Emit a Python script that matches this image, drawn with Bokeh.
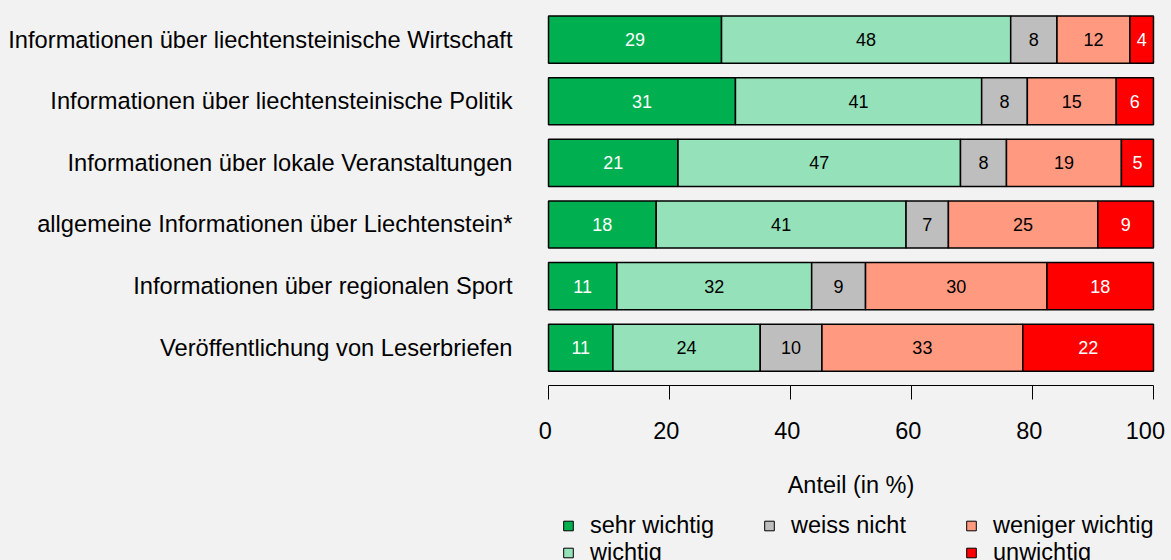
from bokeh.plotting import figure
from bokeh.layouts import column
from bokeh.models import (ColumnDataSource, Range1d, FixedTicker, Legend, LegendItem,
                          GlobalInlineStyleSheet)
from bokeh.core.properties import value
from bokeh.embed import file_html
from bokeh.resources import INLINE

categories = [
    "Informationen über liechtensteinische Wirtschaft",
    "Informationen über liechtensteinische Politik",
    "Informationen über lokale Veranstaltungen",
    "allgemeine Informationen über Liechtenstein*",
    "Informationen über regionalen Sport",
    "Veröffentlichung von Leserbriefen",
]
series_names = ["sehr wichtig", "wichtig", "weiss nicht", "weniger wichtig", "unwichtig"]
sehr_wichtig = [28.6, 30.9, 21.4, 17.8, 11.3, 10.65]
wichtig = [47.8, 40.7, 46.7, 41.3, 32.2, 24.35]
weiss_nicht = [7.65, 7.55, 7.6, 7.0, 8.9, 10.2]
weniger_wichtig = [12.05, 14.7, 19.0, 24.7, 30.0, 33.2]
unwichtig = [3.9, 6.15, 5.3, 9.2, 17.6, 21.6]
x_ticks = [0, 20, 40, 60, 80, 100]

colors = ["#00B050", "#95E1B9", "#BEBEBE", "#FF9980", "#FF0000"]
label_colors = ["white", "black", "black", "black", "white"]
FONT = "Liberation Sans"
BG = "#F2F2F2"

series = [sehr_wichtig, wichtig, weiss_nicht, weniger_wichtig, unwichtig]
keys = ["s0", "s1", "s2", "s3", "s4"]
ypos = list(range(len(categories)))

data = {"y": ypos}
for k, s in zip(keys, series):
    data[k] = s
source = ColumnDataSource(data)

p = figure(width=1171, height=500, output_backend="svg", toolbar_location=None,
           x_range=Range1d(-0.5, 100.5), y_range=Range1d(5.613, -0.505),
           min_border_left=545, min_border_right=15, min_border_top=8, min_border_bottom=113)
p.background_fill_color = BG
p.border_fill_color = BG
p.outline_line_color = None
p.grid.visible = False
p.stylesheets = [GlobalInlineStyleSheet(
    css="html, body { background-color: #F2F2F2; margin: 0; overflow: hidden; }")]

p.hbar_stack(keys, y="y", height=0.766, source=source, fill_color=colors,
             line_color="black", line_width=1.5)

# segment labels
tx, ty, tt, tc = [], [], [], []
for i in range(len(categories)):
    cum = 0.0
    for j, s in enumerate(series):
        v = s[i]
        tx.append(cum + v / 2)
        ty.append(i)
        tt.append(str(int(v + 0.5)))
        tc.append(label_colors[j])
        cum += v
p.text(x=tx, y=ty, text=tt, text_color=tc, text_align="center", text_baseline="middle",
       text_font=value(FONT), text_font_size="18px")

# x axis
xa = p.xaxis[0]
xa.bounds = (0, 100)
xa.ticker = FixedTicker(ticks=x_ticks)
xa.major_label_overrides = {t: f"{t} " for t in x_ticks}
xa.major_tick_out = 14
xa.major_tick_in = 0
xa.minor_tick_line_color = None
xa.axis_line_color = "black"
xa.major_tick_line_color = "black"
xa.major_label_text_font = FONT
xa.major_label_text_font_size = "23.5px"
xa.major_label_text_color = "black"
xa.major_label_standoff = 18
xa.axis_label = "Anteil (in %)"
xa.axis_label_text_font = FONT
xa.axis_label_text_font_size = "23.5px"
xa.axis_label_text_font_style = "normal"
xa.axis_label_text_color = "black"
xa.axis_label_standoff = 25

# y axis with category names
ya = p.yaxis[0]
ya.ticker = FixedTicker(ticks=ypos)
ya.major_label_overrides = {i: c for i, c in enumerate(categories)}
ya.axis_line_color = None
ya.major_tick_line_color = None
ya.minor_tick_line_color = None
ya.major_tick_out = 0
ya.major_tick_in = 0
ya.major_label_standoff = 33
ya.major_label_text_font = FONT
ya.major_label_text_font_size = "23.7px"
ya.major_label_text_color = "black"

# legend strip below the chart (its frame is aligned with the chart frame)
q = figure(width=1171, height=60, output_backend="svg", toolbar_location=None,
           x_range=Range1d(0, 1), y_range=Range1d(0, 1),
           x_axis_type=None, y_axis_type=None,
           min_border_left=0, min_border_right=0, min_border_top=0, min_border_bottom=0)
q.background_fill_color = BG
q.border_fill_color = BG
q.outline_line_color = None
q.grid.visible = False

# off-range markers: they only supply the legend swatches
leg_r = []
for c in colors:
    r = q.scatter(x=[-10], y=[-10], marker="square", size=10, fill_color=c,
                  line_color="black", line_width=1)
    leg_r.append(r)

def make_legend(idx, loc):
    its = [LegendItem(label=series_names[i], renderers=[leg_r[i]]) for i in idx]
    lg = Legend(items=its, location=loc, orientation="vertical",
                glyph_width=24, glyph_height=27, label_height=24, spacing=0,
                padding=0, margin=0, label_standoff=10,
                label_text_font=FONT, label_text_font_size="23.5px",
                label_text_color="black", border_line_color=None,
                background_fill_alpha=0)
    q.add_layout(lg, "center")

make_legend([0, 1], (11, -6))
make_legend([2], (212, 21))
make_legend([3, 4], (414, -6))

layout = column(p, q, spacing=0)
open("out.html", "w").write(file_html(layout, INLINE))
